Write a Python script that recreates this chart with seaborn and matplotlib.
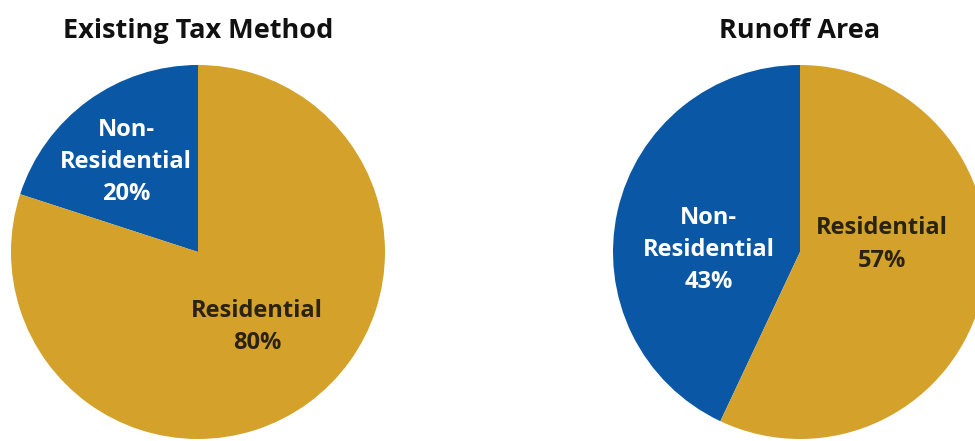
import matplotlib
matplotlib.use("Agg")
import matplotlib.pyplot as plt
import seaborn as sns

titles = ["Existing Tax Method", "Runoff Area"]
categories = ["Non-\nResidential", "Residential"]
tax_shares = [20, 80]
runoff_shares = [43, 57]

sns.set_theme(style="white")
plt.rcParams['font.family'] = ['Open Sans', 'DejaVu Sans']

blue = "#0A57A5"
gold = "#D4A22B"
dark = "#2a2312"

W, H = 975, 441
fig = plt.figure(figsize=(W / 100, H / 100), dpi=100)

# pie centres and label spots in pixels (layout only)
centres = [(198, 252), (800, 252)]
radius = 187
label_spots = [
    [(-0.385, 0.48), (0.316, -0.40)],
    [(-0.49, 0.01), (0.44, 0.04)],
]

for k, shares in enumerate([tax_shares, runoff_shares]):
    cx, cy = centres[k]
    ax = fig.add_axes([(cx - radius) / W, (H - cy - radius) / H,
                       2 * radius / W, 2 * radius / H])
    ax.pie(shares, colors=[blue, gold], startangle=90, counterclock=True,
           radius=1, wedgeprops=dict(linewidth=0))
    ax.set_xlim(-1, 1)
    ax.set_ylim(-1, 1)
    ax.set_aspect("equal")
    ax.axis("off")
    for j, (name, val) in enumerate(zip(categories, shares)):
        lx, ly = label_spots[k][j]
        ax.text(lx, ly, f"{name}\n{val}%", ha="center", va="center",
                fontsize=17, fontweight="bold", linespacing=1.45,
                color="white" if j == 0 else dark)
    fig.text(cx / W, 1 - 31 / H, titles[k], ha="center", va="center",
             fontsize=19.5, fontweight="bold", color="#111111")

fig.savefig("out.png", dpi=100)
